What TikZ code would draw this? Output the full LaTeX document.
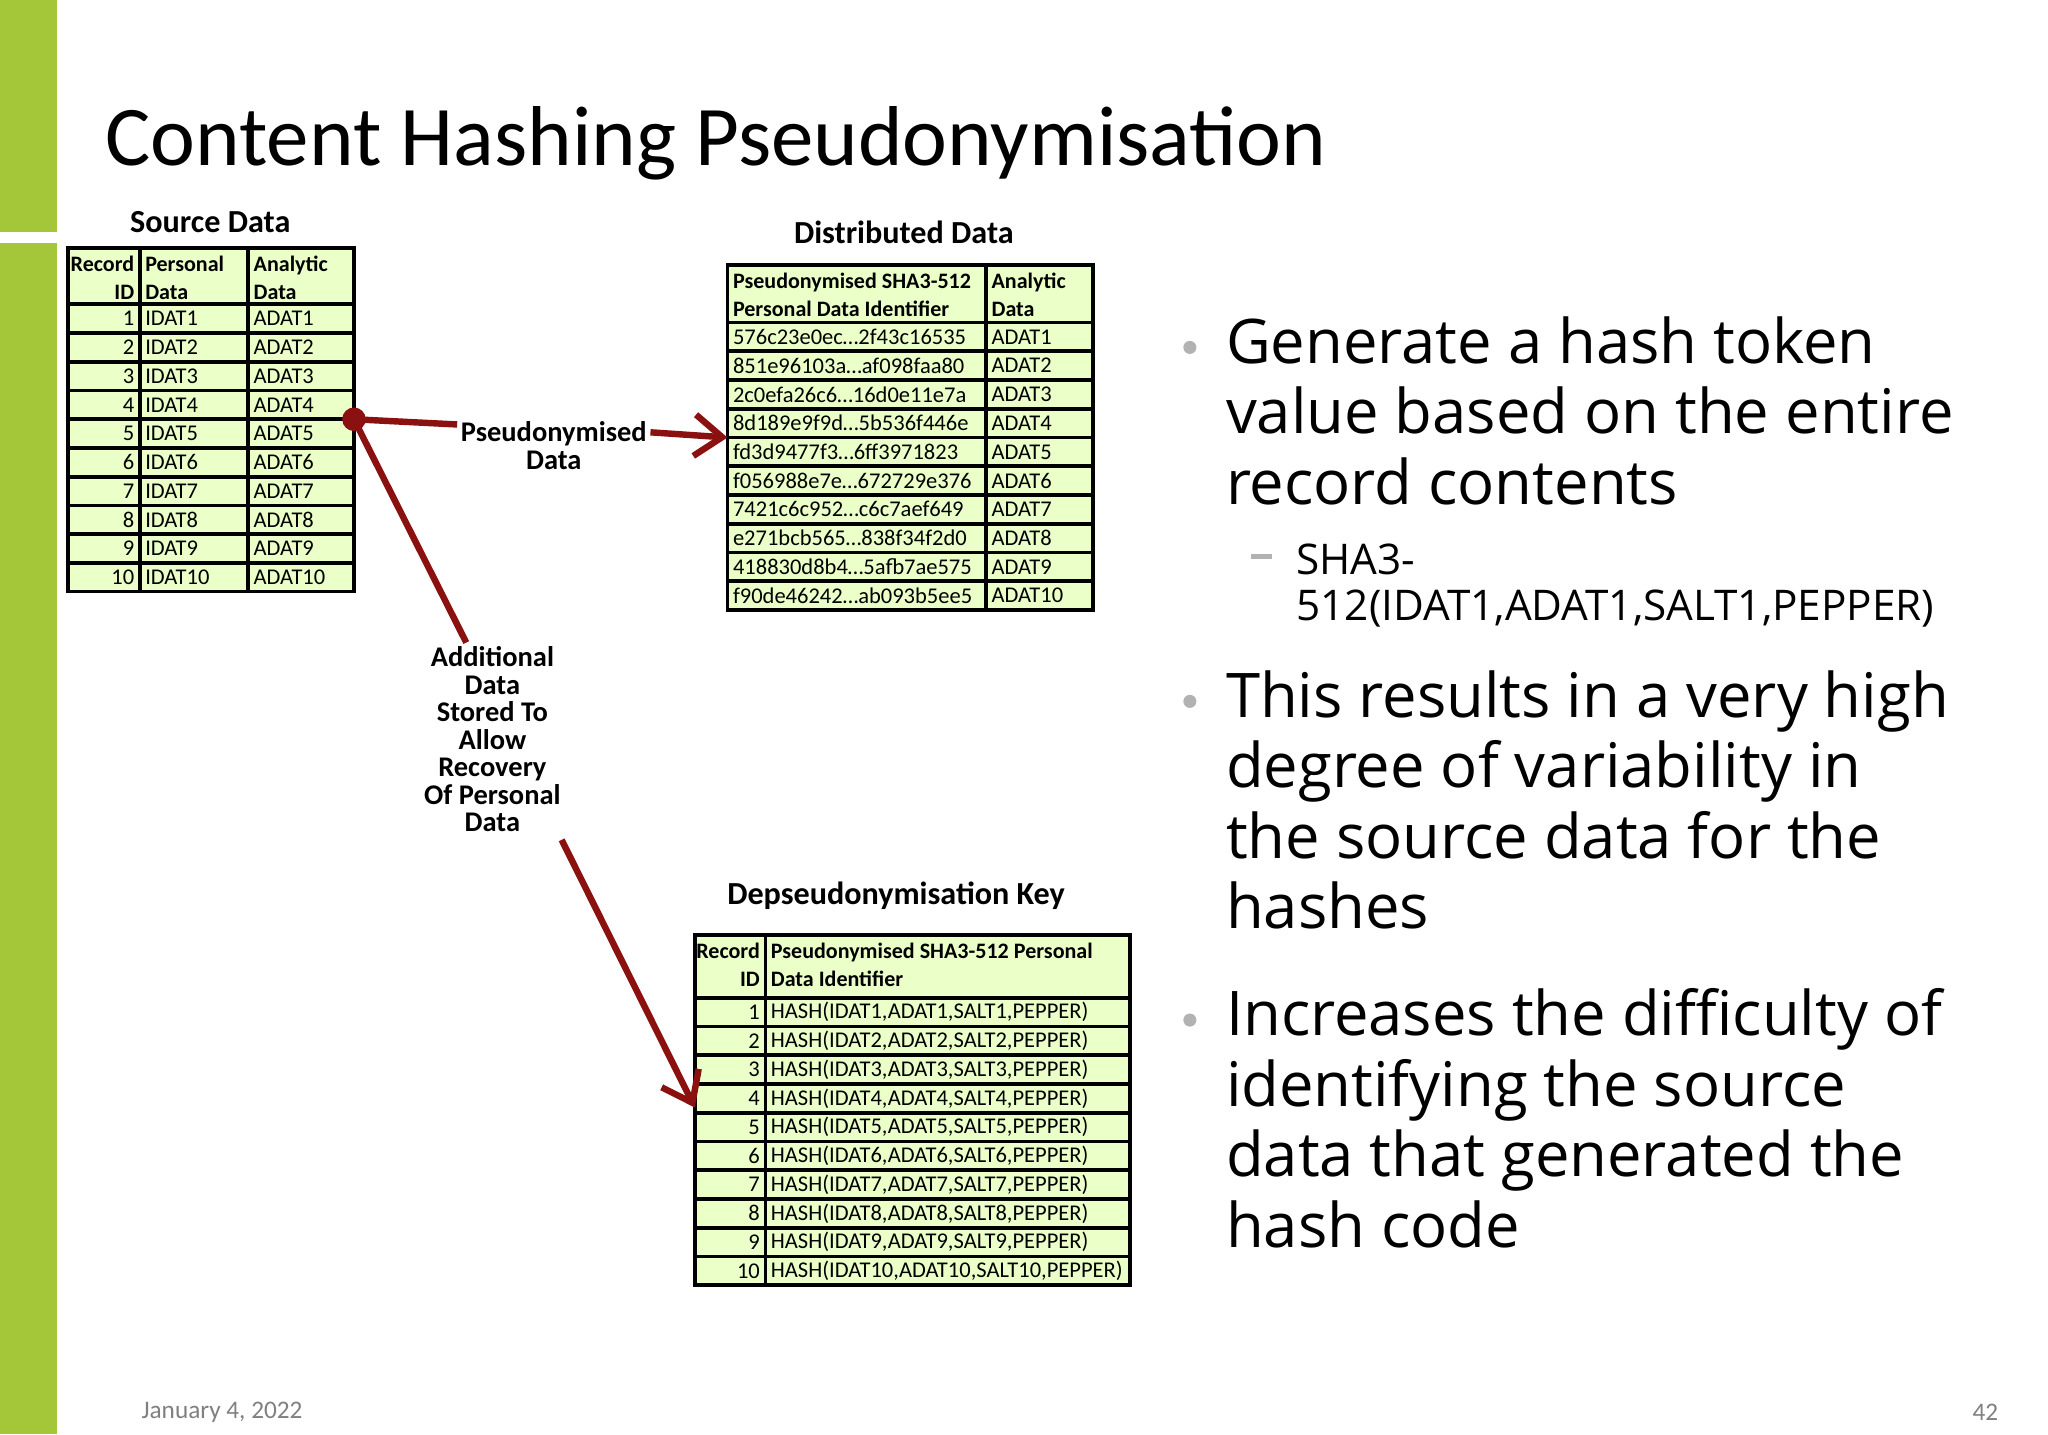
\documentclass[tikz,border=0pt]{standalone}
\usepackage{fontspec}
\usetikzlibrary{arrows.meta}
\setmainfont{Carlito}
\newfontfamily\bfont{Open Sans}
\definecolor{barg}{HTML}{A4C639}
\definecolor{cellg}{HTML}{EBFFC8}
\definecolor{arr}{HTML}{8B1010}
\begin{document}
\begin{tikzpicture}[x=0.01cm,y=-0.01cm,
  cell/.style={draw=black,line width=0.8pt,fill=cellg},
  tx/.style={inner sep=1pt,font=\fontsize{4.9}{6}\selectfont},
  hd/.style={inner sep=1pt,font=\bfseries\fontsize{4.8}{6}\selectfont,align=left},
  ttl/.style={font=\bfseries\fontsize{7}{8.4}\selectfont},
  lbl/.style={font=\bfseries\fontsize{6.2}{6}\selectfont,align=center,inner sep=0pt},
  con/.style={draw=arr,line width=1.4pt},
  bl/.style={anchor=base west,inner sep=0pt,font=\bfont\fontsize{13.4}{15.4}\selectfont},
  sb/.style={anchor=base west,inner sep=0pt,font=\bfont\fontsize{9.2}{11}\selectfont},
  dot/.style={fill=gray!60,circle,inner sep=0pt,minimum size=0.1cm}]
\useasboundingbox (0,0) rectangle (1568,1098);
\fill[white] (0,0) rectangle (1568,1098);
\fill[barg] (0,0) rectangle (44,178);
\fill[barg] (0,186) rectangle (44,1098);
\node[anchor=base west,inner sep=0pt,font=\fontsize{18.5}{22}\selectfont] (title) at (80,127) {Content Hashing Pseudonymisation};
% Source table
\node[ttl] (st) at (161,170) {Source Data};
\foreach \a/\b in {52/107,107/190,190/271} \draw[cell] (\a,190) rectangle (\b,233);
\node[hd,anchor=north east,align=right] (sh1) at (107,192) {Record\\ID};
\node[hd,anchor=north west] (sh2) at (107,192) {Personal\\Data};
\node[hd,anchor=north west] (sh3) at (190,192) {Analytic\\Data};
\foreach \i in {1,...,10}{
  \pgfmathsetmacro\yt{233+22*(\i-1)}
  \foreach \a/\b in {52/107,107/190,190/271} \draw[cell] (\a,\yt) rectangle (\b,\yt+22);
  \node[tx,anchor=east] (sr\i) at (107,\yt+11) {\i};
  \node[tx,anchor=west] (sp\i) at (107,\yt+11) {IDAT\i};
  \node[tx,anchor=west] (sa\i) at (190,\yt+11) {ADAT\i};
}
% Distributed table
\node[ttl] (dt) at (692,178) {Distributed Data};
\foreach \a/\b in {557/755,755/837} \draw[cell] (\a,203) rectangle (\b,247);
\node[hd,anchor=north west] (dh1) at (557,205) {Pseudonymised SHA3-512\\Personal Data Identifier};
\node[hd,anchor=north west] (dh2) at (755,205) {Analytic\\Data};
\foreach \h [count=\i] in {576c23e0ec\dots2f43c16535,851e96103a\dots af098faa80,2c0efa26c6\dots16d0e11e7a,8d189e9f9d\dots5b536f446e,fd3d9477f3\dots6ff3971823,f056988e7e\dots672729e376,7421c6c952\dots c6c7aef649,e271bcb565\dots838f34f2d0,418830d8b4\dots5afb7ae575,f90de46242\dots ab093b5ee5}{
  \pgfmathsetmacro\yt{247+22*(\i-1)}
  \foreach \a/\b in {557/755,755/837} \draw[cell] (\a,\yt) rectangle (\b,\yt+22);
  \node[tx,anchor=west] (dp\i) at (557,\yt+11) {\h};
  \node[tx,anchor=west] (da\i) at (755,\yt+11) {ADAT\i};
}
% Key table
\node[ttl] (kt) at (686,686) {Depseudonymisation Key};
\foreach \a/\b in {532/586,586/865} \draw[cell] (\a,716) rectangle (\b,764);
\node[hd,anchor=north east,align=right] (kh1) at (586,718) {Record\\ID};
\node[hd,anchor=north west] (kh2) at (586,718) {Pseudonymised SHA3-512 Personal\\Data Identifier};
\foreach \i in {1,...,10}{
  \pgfmathsetmacro\yt{764+22*(\i-1)}
  \foreach \a/\b in {532/586,586/865} \draw[cell] (\a,\yt) rectangle (\b,\yt+22);
  \node[tx,anchor=east] (kr\i) at (586,\yt+11) {\i};
  \node[tx,anchor=west] (kp\i) at (586,\yt+11) {HASH(IDAT\i,ADAT\i,SALT\i,PEPPER)};
}
% connectors
\node[circle,fill=arr,inner sep=0pt,minimum size=0.18cm] (d) at (271,321) {};
\node[lbl] (pl) at (424,341) {Pseudonymised\\Data};
\node[lbl] (al) at (377,566) {Additional\\Data\\Stored To\\Allow\\Recovery\\Of Personal\\Data};
\coordinate (a1) at (350,325);
\coordinate (a2) at (498,331);
\coordinate (a3) at (557,335);
\coordinate (b1) at (357,492);
\coordinate (b2) at (430,643);
\coordinate (b3) at (532,848);
\draw[con] (d.center) -- (a1);
\draw[con,-{Straight Barb[length=6pt,width=9pt]}] (a2) -- (a3);
\draw[con] (d.center) -- (b1);
\draw[con,-{Straight Barb[length=6pt,width=9pt]}] (b2) -- (b3);
% bullets
\node[dot] (p1) at (911,266) {};
\node[bl] (t1a) at (938,278) {Generate a hash token};
\node[bl] (t1b) at (938,332) {value based on the entire};
\node[bl] (t1c) at (938,386) {record contents};
\draw[gray!60,line width=1.2pt] (958,426) -- (974,426);
\node[sb] (s1) at (992,440) {SHA3-};
\node[sb] (s2) at (992,475) {512(IDAT1,ADAT1,SALT1,PEPPER)};
\node[dot] (p2) at (911,537) {};
\node[bl] (t2a) at (938,549) {This results in a very high};
\node[bl] (t2b) at (938,603) {degree of variability in};
\node[bl] (t2c) at (938,657) {the source data for the};
\node[bl] (t2d) at (938,711) {hashes};
\node[dot] (p3) at (911,781) {};
\node[bl] (t3a) at (938,793) {Increases the difficulty of};
\node[bl] (t3b) at (938,847) {identifying the source};
\node[bl] (t3c) at (938,901) {data that generated the};
\node[bl] (t3d) at (938,955) {hash code};
\node[text=gray,font=\fontsize{5.5}{6}\selectfont] (date) at (170,1081) {January 4, 2022};
\node[text=gray,font=\fontsize{5.5}{6}\selectfont] (pg) at (1520,1081) {42};
\end{tikzpicture}
\end{document}
